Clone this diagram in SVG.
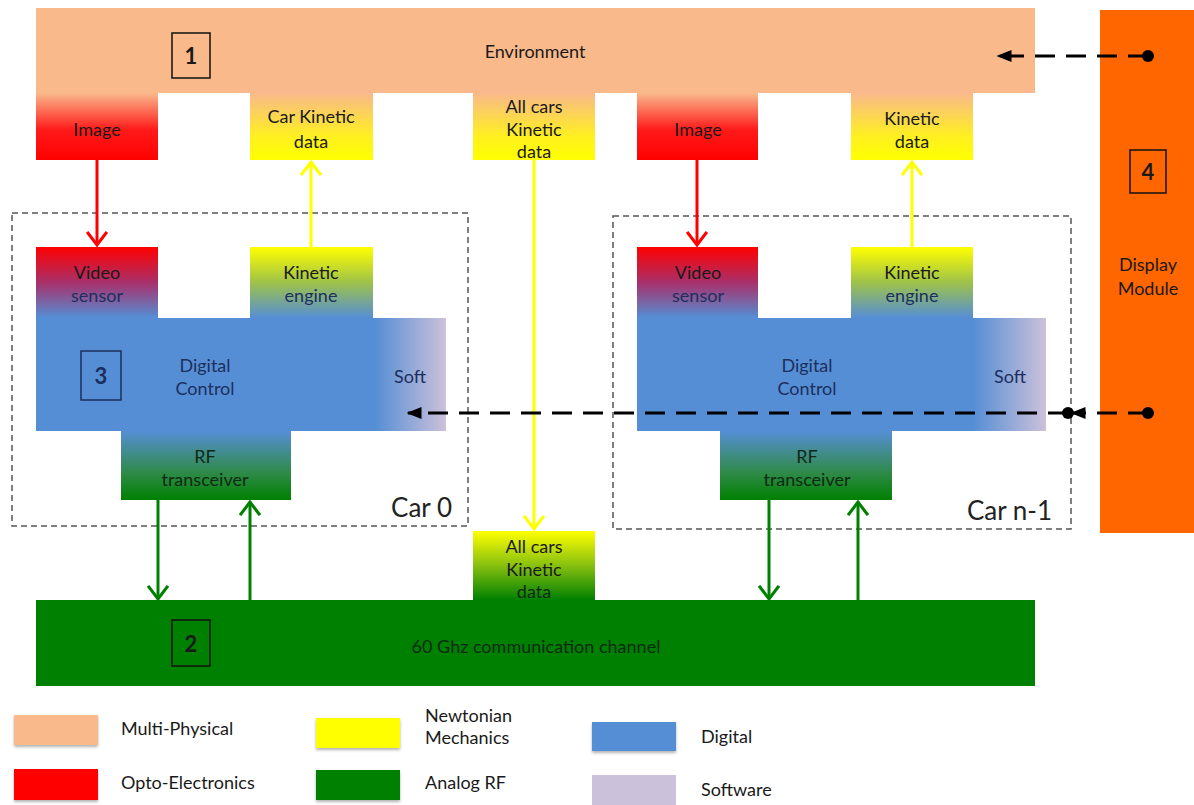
<svg xmlns="http://www.w3.org/2000/svg" width="1194" height="805" viewBox="0 0 1194 805">
  <style>
    text { font-family: Lato, "Liberation Sans", sans-serif; font-size: 18px; fill: #1a1a1a; text-anchor: middle; }
    .num { font-size: 22px; font-weight: bold; }
    .big { font-size: 26px; text-anchor: end; fill: #222; }
    .leg { text-anchor: start; }
    .dig { fill: #1C2F5E; }
    .rf { fill: #0E2A14; }
    .numbox { fill: none; stroke: #111; stroke-width: 1.5; }
    .car { fill: none; stroke: #555; stroke-width: 1.5; stroke-dasharray: 6 4; }
    .dash { stroke: #000; stroke-width: 3; stroke-dasharray: 20 11; fill: none; }
  </style>
  <defs>
    <linearGradient id="gImage" x1="0" y1="0" x2="0" y2="1">
      <stop offset="0" stop-color="#F9B98B"/>
      <stop offset="0.55" stop-color="#FF1A1A"/>
      <stop offset="1" stop-color="#FF0000"/>
    </linearGradient>
    <linearGradient id="gKin" x1="0" y1="0" x2="0" y2="1">
      <stop offset="0" stop-color="#F9B98B"/>
      <stop offset="0.65" stop-color="#FFF020"/>
      <stop offset="1" stop-color="#FFFF00"/>
    </linearGradient>
    <linearGradient id="gVideo" x1="0" y1="0" x2="0" y2="1">
      <stop offset="0" stop-color="#FF0000"/>
      <stop offset="0.5" stop-color="#A8306A"/>
      <stop offset="1" stop-color="#558ED5"/>
    </linearGradient>
    <linearGradient id="gEngine" x1="0" y1="0" x2="0" y2="1">
      <stop offset="0" stop-color="#FFFF00"/>
      <stop offset="0.5" stop-color="#9EC24A"/>
      <stop offset="1" stop-color="#558ED5"/>
    </linearGradient>
    <linearGradient id="gRF" x1="0" y1="0" x2="0" y2="1">
      <stop offset="0" stop-color="#558ED5"/>
      <stop offset="0.6" stop-color="#2F8A4A"/>
      <stop offset="1" stop-color="#008000"/>
    </linearGradient>
    <linearGradient id="gAll" x1="0" y1="0" x2="0" y2="1">
      <stop offset="0" stop-color="#FFFF00"/>
      <stop offset="0.5" stop-color="#88C010"/>
      <stop offset="1" stop-color="#008000"/>
    </linearGradient>
    <linearGradient id="gSoft" x1="0" y1="0" x2="1" y2="0">
      <stop offset="0" stop-color="#558ED5"/>
      <stop offset="1" stop-color="#CCC1DA"/>
    </linearGradient>
    <marker id="arYel" viewBox="0 0 10 10" refX="8.5" refY="5" markerWidth="22" markerHeight="22" orient="auto" markerUnits="userSpaceOnUse">
      <path d="M2.5,0.5 L8.5,5 L2.5,9.5" fill="none" stroke="#FFFF00" stroke-width="1.4"/>
    </marker>
    <marker id="arRed" viewBox="0 0 10 10" refX="8.5" refY="5" markerWidth="22" markerHeight="22" orient="auto" markerUnits="userSpaceOnUse">
      <path d="M2.5,0.5 L8.5,5 L2.5,9.5" fill="none" stroke="#FF0000" stroke-width="1.4"/>
    </marker>
    <marker id="arGrn" viewBox="0 0 10 10" refX="8.5" refY="5" markerWidth="22" markerHeight="22" orient="auto" markerUnits="userSpaceOnUse">
      <path d="M2.5,0.5 L8.5,5 L2.5,9.5" fill="none" stroke="#008000" stroke-width="1.4"/>
    </marker>
    <marker id="arBlk" viewBox="0 0 10 10" refX="9" refY="5" markerWidth="5" markerHeight="5" orient="auto">
      <path d="M0,1 L10,5 L0,9 Z" fill="#000"/>
    </marker>
    <marker id="dot" viewBox="0 0 10 10" refX="5" refY="5" markerWidth="4" markerHeight="4" orient="auto">
      <circle cx="5" cy="5" r="5" fill="#000"/>
    </marker>
    <filter id="shadow" x="-10%" y="-10%" width="130%" height="140%">
      <feDropShadow dx="0" dy="2" stdDeviation="1.5" flood-color="#000" flood-opacity="0.3"/>
    </filter>
  </defs>

  <!-- Environment bar -->
  <g id="environment">
    <rect x="36" y="8" width="999" height="85" fill="#F9B98B"/>
    <text x="535" y="58">Environment</text>
    <rect class="numbox" x="172" y="33" width="38" height="45"/>
    <text class="num" x="191" y="64">1</text>
  </g>

  <!-- Display module -->
  <g id="display">
    <rect x="1100" y="10" width="94" height="523" fill="#FF6600"/>
    <rect class="numbox" x="1130" y="150" width="36" height="43"/>
    <text class="num" x="1148" y="180">4</text>
    <text x="1148" y="271">Display</text>
    <text x="1148" y="295">Module</text>
  </g>

  <!-- Environment outputs -->
  <g id="image0">
    <rect x="36" y="93" width="122" height="67" fill="url(#gImage)"/>
    <text x="97" y="136">Image</text>
  </g>
  <g id="carKinData">
    <rect x="250" y="93" width="123" height="67" fill="url(#gKin)"/>
    <text x="311" y="123">Car Kinetic</text>
    <text x="311" y="148">data</text>
  </g>
  <g id="allKinTop">
    <rect x="473" y="93" width="122" height="67" fill="url(#gKin)"/>
    <text x="534" y="113">All cars</text>
    <text x="534" y="136">Kinetic</text>
    <text x="534" y="158">data</text>
  </g>
  <g id="image1">
    <rect x="637" y="93" width="121" height="67" fill="url(#gImage)"/>
    <text x="698" y="136">Image</text>
  </g>
  <g id="kinData1">
    <rect x="851" y="93" width="122" height="67" fill="url(#gKin)"/>
    <text x="912" y="125">Kinetic</text>
    <text x="912" y="148">data</text>
  </g>

  <!-- Car 0 -->
  <g id="car0">
    <rect class="car" x="12" y="213" width="456" height="313"/>
    <rect x="36" y="318" width="340" height="113" fill="#558ED5"/>
    <rect x="375" y="318" width="71" height="113" fill="url(#gSoft)"/>
    <rect x="36" y="247" width="122" height="71" fill="url(#gVideo)"/>
    <rect x="250" y="247" width="123" height="71" fill="url(#gEngine)"/>
    <rect x="121" y="431" width="170" height="69" fill="url(#gRF)"/>
    <text x="97" y="279">Video</text>
    <text class="dig" x="97" y="302">sensor</text>
    <text x="311" y="279">Kinetic</text>
    <text class="dig" x="311" y="302">engine</text>
    <text class="dig" x="205" y="372">Digital</text>
    <text class="dig" x="205" y="395">Control</text>
    <text class="dig" x="410" y="383">Soft</text>
    <rect class="numbox" x="81" y="351" width="40" height="49" style="stroke:#1C2F5E"/>
    <text class="num dig" x="101" y="384">3</text>
    <text class="rf" x="205" y="463">RF</text>
    <text class="rf" x="205" y="486">transceiver</text>
    <text class="big" x="452" y="517">Car 0</text>
  </g>

  <!-- Car n-1 -->
  <g id="carN">
    <rect class="car" x="613" y="216" width="458" height="313"/>
    <rect x="637" y="318" width="337" height="113" fill="#558ED5"/>
    <rect x="973" y="318" width="73" height="113" fill="url(#gSoft)"/>
    <rect x="637" y="247" width="121" height="71" fill="url(#gVideo)"/>
    <rect x="851" y="247" width="122" height="71" fill="url(#gEngine)"/>
    <rect x="720" y="431" width="172" height="69" fill="url(#gRF)"/>
    <text x="698" y="279">Video</text>
    <text class="dig" x="698" y="302">sensor</text>
    <text x="912" y="279">Kinetic</text>
    <text class="dig" x="912" y="302">engine</text>
    <text class="dig" x="807" y="372">Digital</text>
    <text class="dig" x="807" y="395">Control</text>
    <text class="dig" x="1010" y="383">Soft</text>
    <text class="rf" x="807" y="463">RF</text>
    <text class="rf" x="807" y="486">transceiver</text>
    <text class="big" x="1052" y="520">Car n-1</text>
  </g>

  <!-- Shared kinetic data and channel -->
  <g id="allKinBottom">
    <rect x="473" y="531" width="122" height="69" fill="url(#gAll)"/>
    <text x="534" y="553">All cars</text>
    <text x="534" y="576">Kinetic</text>
    <text class="rf" x="534" y="598">data</text>
  </g>
  <g id="channel">
    <rect x="36" y="600" width="999" height="86" fill="#008000"/>
    <rect class="numbox" x="172" y="620" width="38" height="46"/>
    <text class="num" x="191" y="652">2</text>
    <text class="rf" x="536" y="653">60 Ghz communication channel</text>
  </g>

  <!-- Connectors -->
  <g id="connectors" fill="none">
    <line x1="97" y1="160" x2="97" y2="245" stroke="#FF0000" stroke-width="3" marker-end="url(#arRed)"/>
    <line x1="697" y1="160" x2="697" y2="245" stroke="#FF0000" stroke-width="3" marker-end="url(#arRed)"/>
    <line x1="311" y1="247" x2="311" y2="162" stroke="#FFFF00" stroke-width="3" marker-end="url(#arYel)"/>
    <line x1="912" y1="247" x2="912" y2="162" stroke="#FFFF00" stroke-width="3" marker-end="url(#arYel)"/>
    <line x1="534" y1="160" x2="534" y2="529" stroke="#FFFF00" stroke-width="3" marker-end="url(#arYel)"/>
    <line x1="158" y1="500" x2="158" y2="599" stroke="#008000" stroke-width="3" marker-end="url(#arGrn)"/>
    <line x1="250" y1="600" x2="250" y2="502" stroke="#008000" stroke-width="3" marker-end="url(#arGrn)"/>
    <line x1="769" y1="500" x2="769" y2="599" stroke="#008000" stroke-width="3" marker-end="url(#arGrn)"/>
    <line x1="858" y1="600" x2="858" y2="502" stroke="#008000" stroke-width="3" marker-end="url(#arGrn)"/>
    <line class="dash" x1="1148" y1="56" x2="998" y2="56" marker-start="url(#dot)" marker-end="url(#arBlk)"/>
    <line class="dash" x1="1148" y1="413" x2="1072" y2="413" marker-start="url(#dot)" marker-end="url(#arBlk)"/>
    <line class="dash" x1="1068" y1="413" x2="408" y2="413" marker-start="url(#dot)" marker-end="url(#arBlk)"/>
  </g>

  <!-- Legend -->
  <g id="legend">
    <rect x="14" y="715" width="84" height="30" fill="#F9B98B" filter="url(#shadow)"/>
    <text class="leg" x="121" y="735">Multi-Physical</text>
    <rect x="14" y="769" width="84" height="31" fill="#FF0000" filter="url(#shadow)"/>
    <text class="leg" x="121" y="789">Opto-Electronics</text>
    <rect x="316" y="718" width="84" height="30" fill="#FFFF00" filter="url(#shadow)"/>
    <text class="leg" x="425" y="722">Newtonian</text>
    <text class="leg" x="425" y="744">Mechanics</text>
    <rect x="316" y="770" width="84" height="30" fill="#008000" filter="url(#shadow)"/>
    <text class="leg" x="425" y="789">Analog RF</text>
    <rect x="592" y="722" width="84" height="29" fill="#558ED5" filter="url(#shadow)"/>
    <text class="leg" x="701" y="743">Digital</text>
    <rect x="592" y="775" width="84" height="30" fill="#CCC1DA"/>
    <text class="leg" x="701" y="796">Software</text>
  </g>
</svg>
